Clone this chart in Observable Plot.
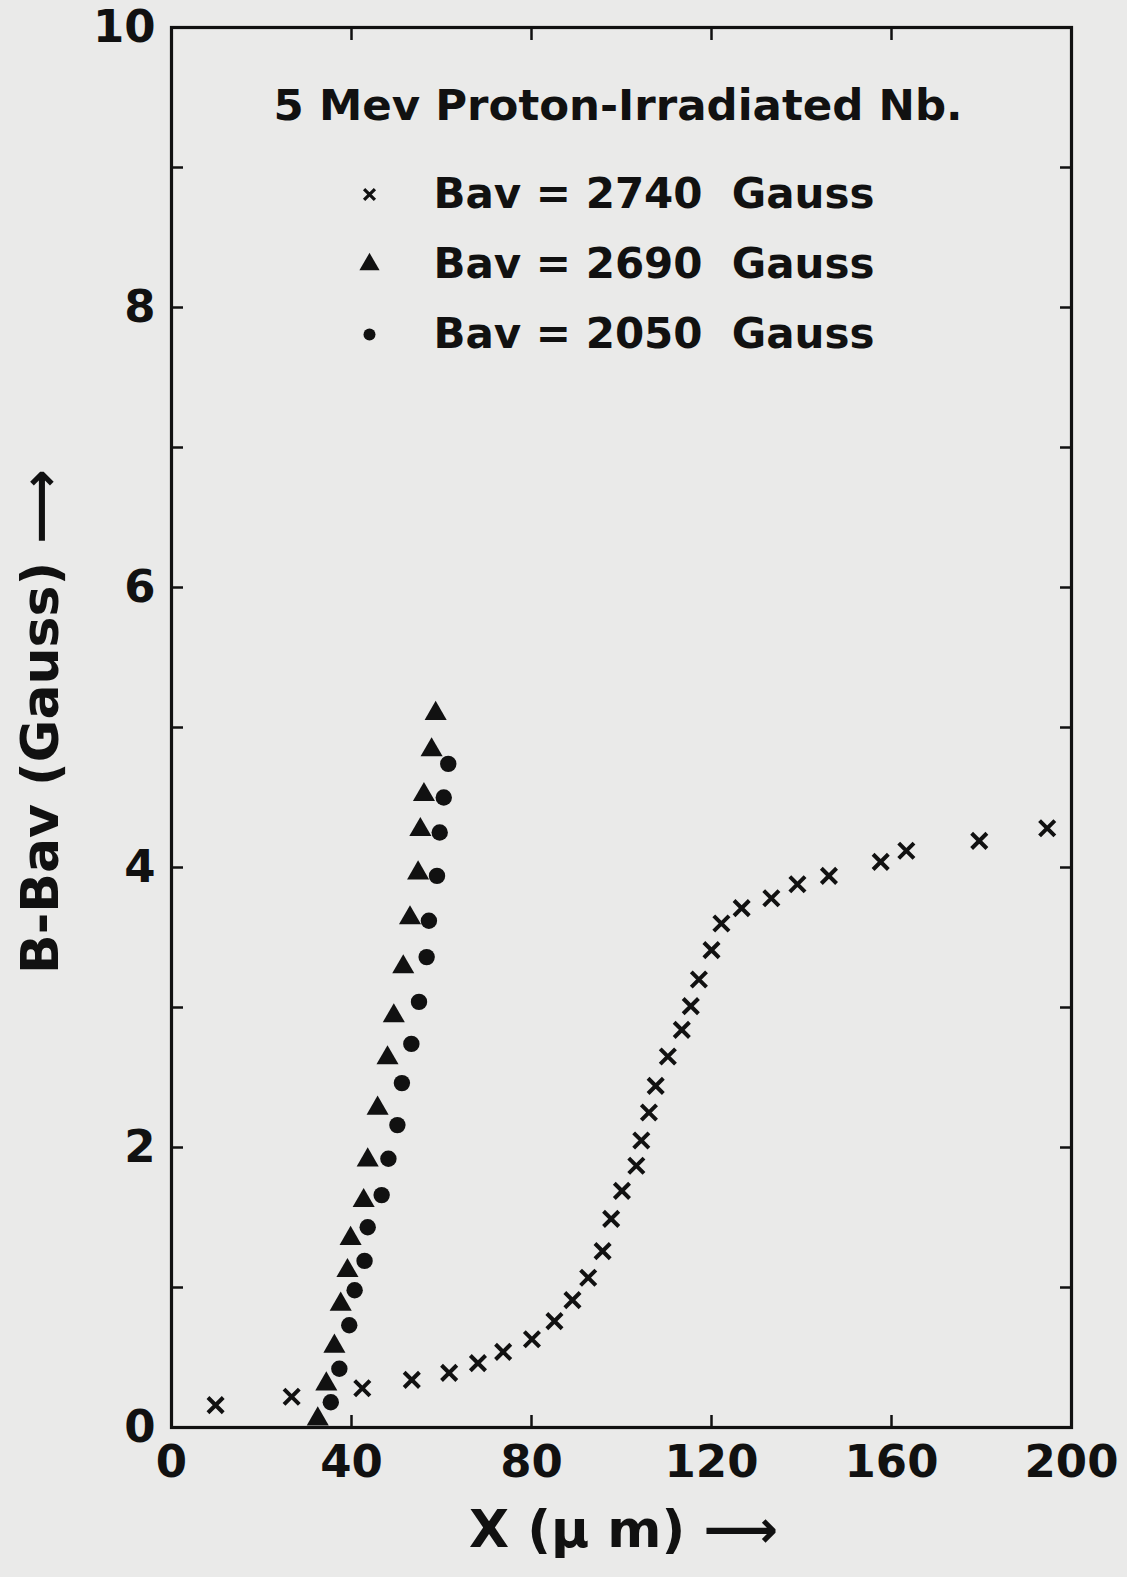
<!DOCTYPE html>
<html>
<head>
<meta charset="utf-8">
<script src="https://cdn.jsdelivr.net/npm/d3@7"></script>
<script src="https://cdn.jsdelivr.net/npm/@observablehq/plot@0.6"></script>
<style>
  html, body { margin: 0; padding: 0; background: #eaeae9; }
  #chart { width: 1127px; height: 1577px; }
</style>
</head>
<body>
<div id="chart"></div>
<script>
// ---- Data ----
// Bav = 2740 Gauss (x markers)
const x2740 = [9.8, 26.7, 42.4, 53.4, 61.7, 68.1, 73.7, 80.1, 85.1, 89.1, 92.6, 95.8, 97.7, 100.1, 103.3, 104.4, 106.1, 107.6, 110.3, 113.4, 115.4, 117.2, 120.0, 122.2, 126.7, 133.3, 139.1, 146.1, 157.6, 163.3, 179.5, 194.6];
const y2740 = [0.16, 0.22, 0.28, 0.34, 0.39, 0.46, 0.54, 0.63, 0.76, 0.91, 1.07, 1.26, 1.49, 1.69, 1.87, 2.05, 2.25, 2.44, 2.65, 2.84, 3.01, 3.20, 3.41, 3.60, 3.71, 3.78, 3.88, 3.94, 4.04, 4.12, 4.19, 4.28];
// Bav = 2690 Gauss (triangles)
const x2690 = [32.5, 34.4, 36.2, 37.6, 39.1, 39.8, 42.7, 43.6, 45.8, 48.0, 49.4, 51.5, 53.0, 54.8, 55.3, 56.1, 57.8, 58.7];
const y2690 = [0.06, 0.31, 0.58, 0.88, 1.12, 1.35, 1.62, 1.91, 2.28, 2.64, 2.94, 3.29, 3.64, 3.96, 4.27, 4.52, 4.84, 5.10];
// Bav = 2050 Gauss (circles)
const x2050 = [35.4, 37.3, 39.5, 40.7, 42.9, 43.6, 46.7, 48.2, 50.2, 51.2, 53.3, 55.0, 56.7, 57.2, 59.0, 59.6, 60.5, 61.5];
const y2050 = [0.18, 0.42, 0.73, 0.98, 1.19, 1.43, 1.66, 1.92, 2.16, 2.46, 2.74, 3.04, 3.36, 3.62, 3.94, 4.25, 4.50, 4.74];

const seriesNames = ["Bav = 2740\u00a0\u00a0Gauss", "Bav = 2690\u00a0\u00a0Gauss", "Bav = 2050\u00a0\u00a0Gauss"];
const seriesSymbols = ["times", "triangle", "circle"];
const titleText = "5 Mev Proton-Irradiated Nb.";
const xLabel = "X (\u03bc m) \u27f6";
const yLabel = "B-Bav (Gauss) \u27f6";
const xTickLabels = [0, 40, 80, 120, 160, 200];
const xTickMarks = [40, 80, 120, 160];
const yTickLabels = [0, 2, 4, 6, 8, 10];
const yTickMarks = [1, 2, 3, 4, 5, 6, 7, 8, 9];

// ---- Build tables ----
const toRows = (xs, ys) => xs.map((x, i) => ({x, y: ys[i]}));
const rows2740 = toRows(x2740, y2740);
const rows2690 = toRows(x2690, y2690);
const rows2050 = toRows(x2050, y2050);

const ink = "#111111";
const font = "DejaVu Sans";

const legendMarks = seriesNames.flatMap((name, i) => {
  const sym = seriesSymbols[i];
  const dotOpts = {frameAnchor: "top-left", dx: 198, dy: 167 + i * 70, symbol: sym};
  if (sym === "times") Object.assign(dotOpts, {r: 5, stroke: ink, strokeWidth: 3.2});
  else if (sym === "triangle") Object.assign(dotOpts, {r: 7.5, fill: ink, stroke: "none"});
  else Object.assign(dotOpts, {r: 6, fill: ink, stroke: "none"});
  return [
    Plot.dot([name], dotOpts),
    Plot.text([name], {frameAnchor: "top-left", dx: 262, dy: 167 + i * 70, text: d => d,
      textAnchor: "start", lineAnchor: "middle", fontSize: 42, fontWeight: "bold", fill: ink, fontFamily: font})
  ];
});

const chart = Plot.plot({
  width: 1127,
  height: 1577,
  marginLeft: 171,
  marginRight: 56,
  marginTop: 27,
  marginBottom: 150,
  style: {background: "transparent", fontFamily: font, color: ink, overflow: "visible"},
  x: {domain: [0, 200]},
  y: {domain: [0, 10]},
  marks: [
    Plot.frame({stroke: ink, strokeWidth: 3.2}),
    // inward tick marks
    Plot.axisX({anchor: "bottom", ticks: xTickMarks, tickSize: -12, tickFormat: () => "", label: null, strokeWidth: 2.5, stroke: ink}),
    Plot.axisX({anchor: "top", ticks: xTickMarks, tickSize: -12, tickFormat: () => "", label: null, strokeWidth: 2.5, stroke: ink}),
    Plot.axisY({anchor: "left", ticks: yTickMarks, tickSize: -12, tickFormat: () => "", label: null, strokeWidth: 2.5, stroke: ink}),
    Plot.axisY({anchor: "right", ticks: yTickMarks, tickSize: -12, tickFormat: () => "", label: null, strokeWidth: 2.5, stroke: ink}),
    // tick labels
    Plot.axisX({anchor: "bottom", ticks: xTickLabels, tickSize: 0, tickPadding: 18, label: null, fontSize: 45, fontWeight: "bold", tickFormat: d => String(d), fill: ink}),
    Plot.axisY({anchor: "left", ticks: yTickLabels, tickSize: 0, tickPadding: 16, label: null, fontSize: 45, fontWeight: "bold", tickFormat: d => String(d), fill: ink}),
    // axis titles
    Plot.text([xLabel], {frameAnchor: "bottom", dx: 2, dy: 103, text: d => d, textAnchor: "middle", fontSize: 52, fontWeight: "bold", fill: ink, fontFamily: font, lineAnchor: "middle"}),
    Plot.text([yLabel], {frameAnchor: "left", dx: -130, dy: -6, rotate: -90, text: d => d, textAnchor: "middle", fontSize: 52, fontWeight: "bold", fill: ink, fontFamily: font, lineAnchor: "middle"}),
    // title inside frame
    Plot.text([titleText], {frameAnchor: "top-left", dx: 102, dy: 79, text: d => d, textAnchor: "start", lineAnchor: "middle", fontSize: 43.5, fontWeight: "bold", fill: ink, fontFamily: font}),
    ...legendMarks,
    // data
    Plot.dot(rows2740, {x: "x", y: "y", symbol: "times", r: 7, stroke: ink, strokeWidth: 4}),
    Plot.dot(rows2690, {x: "x", y: "y", symbol: "triangle", r: 8.2, fill: ink, stroke: "none"}),
    Plot.dot(rows2050, {x: "x", y: "y", symbol: "circle", r: 8.2, fill: ink, stroke: "none"})
  ]
});

document.getElementById("chart").appendChild(chart);
</script>
</body>
</html>
